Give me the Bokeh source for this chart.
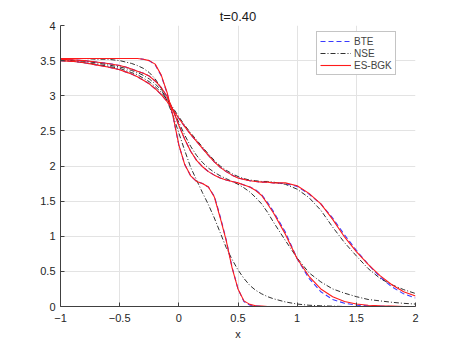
from bokeh.plotting import figure
from bokeh.models import Range1d, Legend, LegendItem, FixedTicker
from bokeh.embed import file_html
from bokeh.resources import INLINE

# ---------------- data ----------------
x = [-1.0, -0.9, -0.8, -0.7, -0.6, -0.5, -0.45, -0.4, -0.35, -0.3, -0.25, -0.2, -0.15, -0.1, -0.05,
     0.0, 0.05, 0.1, 0.15, 0.2, 0.25, 0.3, 0.35, 0.4, 0.45, 0.5, 0.55, 0.6, 0.65, 0.7, 0.75, 0.8,
     0.9, 1.0, 1.1, 1.2, 1.3, 1.4, 1.5, 1.6, 1.7, 1.8, 1.9, 2.0]

# group A (sharpest)
esbgk_a = [3.53, 3.53, 3.53, 3.53, 3.53, 3.53, 3.53, 3.53, 3.53, 3.52, 3.50, 3.45, 3.30, 3.05, 2.72,
           2.30, 2.02, 1.86, 1.78, 1.75, 1.70, 1.56, 1.26, 0.94, 0.55, 0.25, 0.08, 0.03, 0.01, 0.005, 0.0, 0.0,
           0.0, 0.0, 0.0, 0.0, 0.0, 0.0, 0.0, 0.0, 0.0, 0.0, 0.0, 0.0]
bte_a = [3.53, 3.53, 3.53, 3.53, 3.53, 3.53, 3.53, 3.53, 3.53, 3.52, 3.50, 3.44, 3.29, 3.04, 2.71,
         2.30, 2.02, 1.86, 1.78, 1.75, 1.70, 1.57, 1.28, 0.95, 0.56, 0.25, 0.07, 0.02, 0.01, 0.0, 0.0, 0.0,
         0.0, 0.0, 0.0, 0.0, 0.0, 0.0, 0.0, 0.0, 0.0, 0.0, 0.0, 0.0]
nse_a = [3.53, 3.53, 3.53, 3.52, 3.52, 3.50, 3.48, 3.46, 3.43, 3.39, 3.33, 3.24, 3.11, 2.93, 2.72,
         2.47, 2.22, 1.98, 1.80, 1.62, 1.45, 1.26, 1.05, 0.84, 0.67, 0.52, 0.40, 0.30, 0.23, 0.18, 0.14, 0.11,
         0.065, 0.035, 0.018, 0.01, 0.005, 0.0, 0.0, 0.0, 0.0, 0.0, 0.0, 0.0]

# group B (medium)
esbgk_b = [3.52, 3.51, 3.50, 3.48, 3.46, 3.43, 3.41, 3.38, 3.35, 3.32, 3.28, 3.21, 3.12, 2.99, 2.80,
           2.58, 2.38, 2.21, 2.08, 1.99, 1.92, 1.87, 1.83, 1.80, 1.78, 1.76, 1.73, 1.70, 1.65, 1.58, 1.46, 1.33,
           1.03, 0.68, 0.43, 0.25, 0.14, 0.07, 0.035, 0.018, 0.01, 0.005, 0.0, 0.0]
bte_b = [3.52, 3.51, 3.50, 3.48, 3.46, 3.43, 3.41, 3.38, 3.35, 3.32, 3.28, 3.21, 3.12, 2.99, 2.80,
         2.58, 2.38, 2.21, 2.08, 1.99, 1.92, 1.87, 1.83, 1.80, 1.78, 1.76, 1.73, 1.70, 1.66, 1.59, 1.48, 1.35,
         1.06, 0.68, 0.40, 0.21, 0.10, 0.045, 0.02, 0.01, 0.005, 0.0, 0.0, 0.0]
nse_b = [3.51, 3.50, 3.49, 3.47, 3.44, 3.41, 3.39, 3.36, 3.33, 3.29, 3.24, 3.17, 3.08, 2.96, 2.80,
         2.62, 2.44, 2.28, 2.15, 2.05, 1.97, 1.91, 1.86, 1.82, 1.78, 1.74, 1.69, 1.63, 1.55, 1.46, 1.34, 1.20,
         0.94, 0.69, 0.48, 0.35, 0.25, 0.19, 0.14, 0.10, 0.08, 0.06, 0.045, 0.035]

# group C (broadest)
esbgk_c = [3.50, 3.49, 3.47, 3.44, 3.41, 3.37, 3.34, 3.31, 3.27, 3.22, 3.17, 3.10, 3.02, 2.92, 2.80,
           2.68, 2.56, 2.45, 2.35, 2.25, 2.15, 2.06, 1.98, 1.92, 1.87, 1.83, 1.81, 1.79, 1.78, 1.77, 1.77, 1.76,
           1.76, 1.72, 1.61, 1.46, 1.24, 0.99, 0.78, 0.60, 0.44, 0.31, 0.21, 0.15]
bte_c = [3.50, 3.49, 3.47, 3.44, 3.41, 3.37, 3.34, 3.31, 3.27, 3.22, 3.17, 3.10, 3.02, 2.92, 2.80,
         2.68, 2.56, 2.45, 2.35, 2.25, 2.15, 2.06, 1.98, 1.92, 1.87, 1.83, 1.81, 1.79, 1.78, 1.77, 1.77, 1.76,
         1.75, 1.71, 1.60, 1.46, 1.26, 1.02, 0.80, 0.60, 0.42, 0.28, 0.18, 0.12]
nse_c = [3.50, 3.49, 3.47, 3.45, 3.42, 3.39, 3.36, 3.33, 3.30, 3.25, 3.20, 3.13, 3.05, 2.95, 2.83,
         2.70, 2.58, 2.47, 2.37, 2.27, 2.17, 2.08, 2.00, 1.94, 1.89, 1.85, 1.82, 1.80, 1.79, 1.78, 1.78, 1.77,
         1.74, 1.67, 1.55, 1.37, 1.13, 0.91, 0.72, 0.54, 0.40, 0.31, 0.24, 0.185]

x_ticks = [-1, -0.5, 0, 0.5, 1, 1.5, 2]
y_ticks = [0, 0.5, 1, 1.5, 2, 2.5, 3, 3.5, 4]
title_text = "t=0.40"
x_label = "x"
labels = ["BTE", "NSE", "ES-BGK"]

# ---------------- figure ----------------
FONT = "Liberation Sans"
p = figure(width=459, height=344, output_backend="svg", toolbar_location=None,
           x_range=Range1d(-1, 2), y_range=Range1d(0, 4),
           min_border_left=60, min_border_right=44, min_border_top=25, min_border_bottom=38)
p.outline_line_color = None
p.background_fill_color = "white"
p.border_fill_color = "white"

p.title.text = title_text
p.title.align = "center"
p.title.text_font = FONT
p.title.text_font_size = "13px"
p.title.text_font_style = "normal"
p.title.text_color = "#1a1a1a"
p.title.standoff = 3
p.title.offset = 0

for ax in (p.xaxis[0], p.yaxis[0]):
    ax.axis_line_color = "#404040"
    ax.major_tick_line_color = "#404040"
    ax.major_tick_in = 4
    ax.major_tick_out = 0
    ax.minor_tick_line_color = None
    ax.major_label_text_font = FONT
    ax.major_label_text_font_size = "11px"
    ax.major_label_text_color = "#262626"
p.xaxis[0].ticker = FixedTicker(ticks=x_ticks)
p.yaxis[0].ticker = FixedTicker(ticks=y_ticks)
p.xaxis[0].major_label_standoff = 7
p.yaxis[0].major_label_standoff = 5
p.xaxis[0].axis_label = x_label
p.xaxis[0].axis_label_text_font = FONT
p.xaxis[0].axis_label_text_font_size = "11px"
p.xaxis[0].axis_label_text_font_style = "normal"
p.xaxis[0].axis_label_text_color = "#262626"
p.xaxis[0].axis_label_standoff = 3

p.grid.grid_line_color = "#e3e3e3"
p.xgrid.ticker = FixedTicker(ticks=x_ticks)
p.ygrid.ticker = FixedTicker(ticks=y_ticks)

blue = "#3a3aff"
red = "#ff1a1a"
black = "#1a1a1a"

bte_r = []
nse_r = []
es_r = []
for yb in (bte_a, bte_b, bte_c):
    bte_r.append(p.line(x, yb, line_color=blue, line_width=1.1, line_dash="5 3"))
for yn in (nse_a, nse_b, nse_c):
    nse_r.append(p.line(x, yn, line_color=black, line_width=0.9, line_dash="5 2 1 2"))
for ye in (esbgk_a, esbgk_b, esbgk_c):
    es_r.append(p.line(x, ye, line_color=red, line_width=1.1))

legend = Legend(items=[LegendItem(label=labels[0], renderers=[bte_r[0]]),
                       LegendItem(label=labels[1], renderers=[nse_r[0]]),
                       LegendItem(label=labels[2], renderers=[es_r[0]])],
                location=(256, 231))
legend.label_text_font = FONT
legend.label_text_font_size = "10px"
legend.glyph_width = 31
legend.glyph_height = 12
legend.label_height = 12
legend.label_width = 10
legend.label_standoff = 3
legend.padding = 3
legend.spacing = 0
legend.margin = 0
legend.border_line_color = "#8a8a8a"
legend.border_line_width = 1
legend.background_fill_alpha = 1
p.add_layout(legend)

open("out.html", "w").write(file_html(p, INLINE))
